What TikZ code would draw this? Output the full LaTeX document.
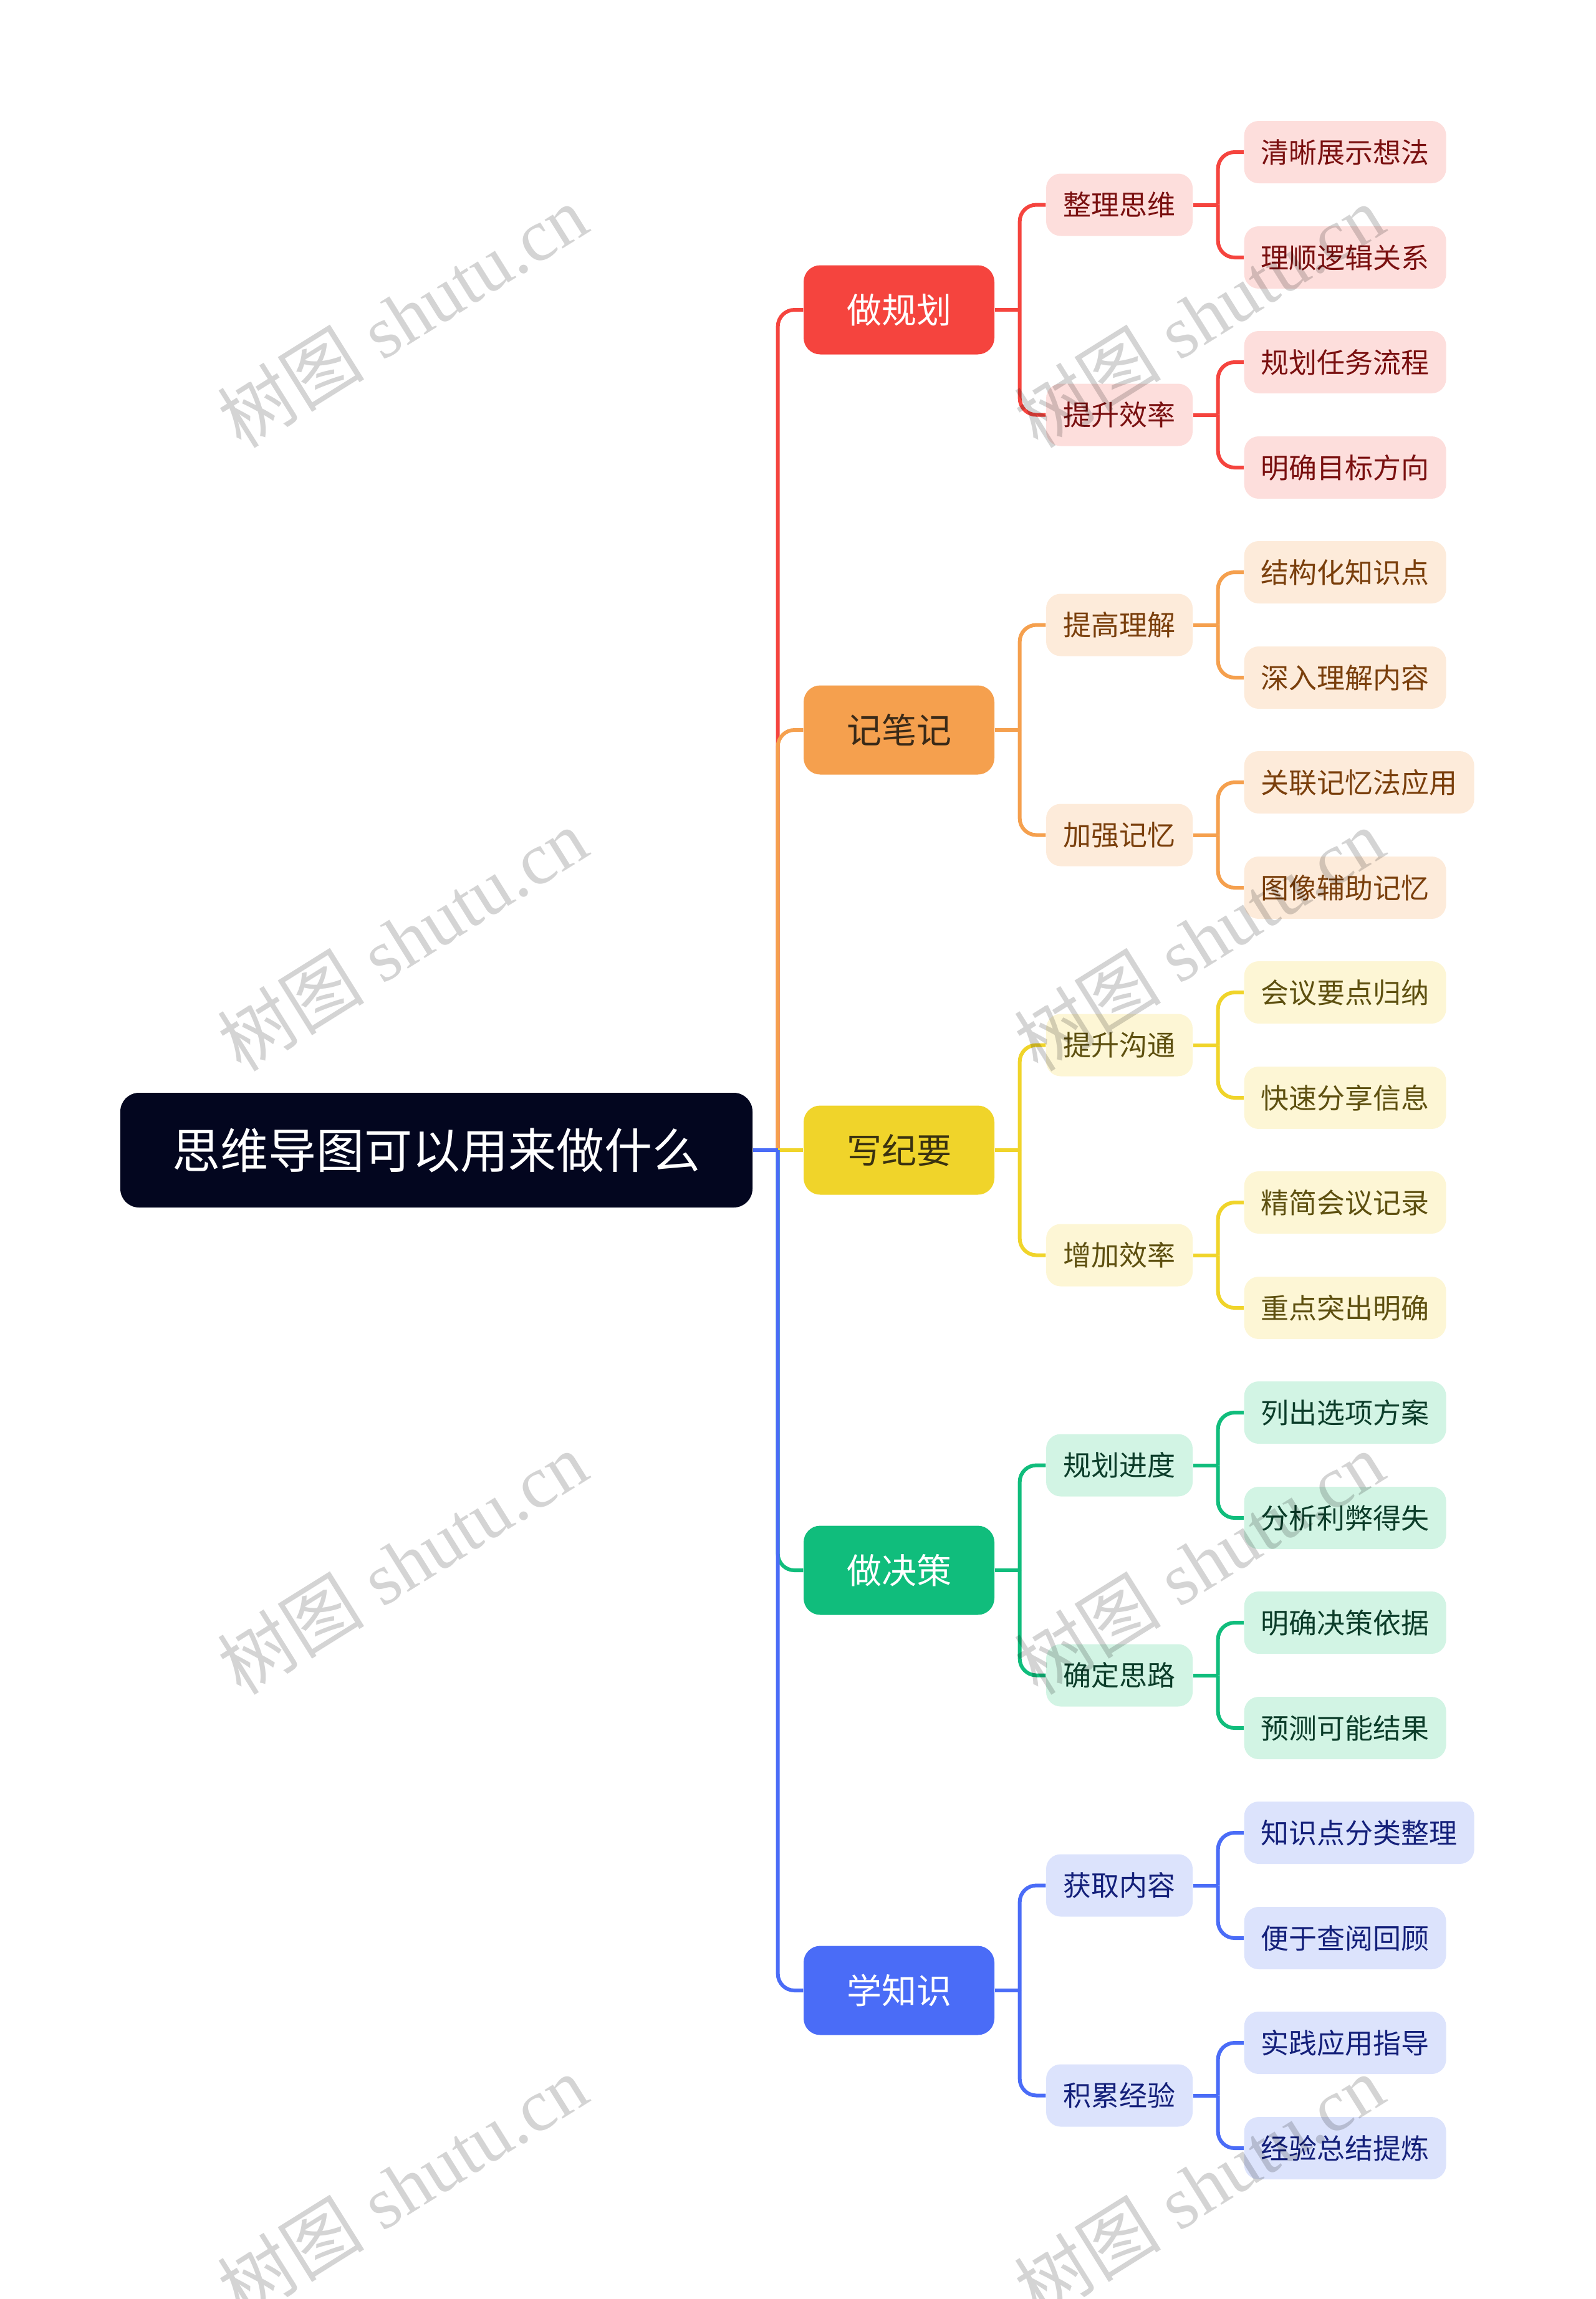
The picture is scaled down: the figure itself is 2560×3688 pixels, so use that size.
\documentclass[tikz,border=0pt]{standalone}
\usepackage{fontspec}
\setmainfont{Noto Sans CJK SC}
\newfontfamily\cjkwm{Noto Sans CJK SC}
\newfontfamily\wmfont{Liberation Serif}
\definecolor{rootc}{HTML}{03061F}
\definecolor{redM}{HTML}{F5443E}
\definecolor{redL}{HTML}{FDDEDC}
\definecolor{redD}{HTML}{7A1010}
\definecolor{oraM}{HTML}{F5A04E}
\definecolor{oraL}{HTML}{FDEBDA}
\definecolor{oraD}{HTML}{7A3F0C}
\definecolor{oraT}{HTML}{3A2A18}
\definecolor{yelM}{HTML}{F0D42A}
\definecolor{yelL}{HTML}{FDF6D5}
\definecolor{yelD}{HTML}{5E5010}
\definecolor{yelT}{HTML}{3A3210}
\definecolor{grnM}{HTML}{10BD7C}
\definecolor{grnL}{HTML}{D2F4E4}
\definecolor{grnD}{HTML}{0C3D2A}
\definecolor{bluM}{HTML}{4A6CF7}
\definecolor{bluL}{HTML}{DCE3FC}
\definecolor{bluD}{HTML}{14207A}
\pgfdeclarelayer{bg}
\pgfsetlayers{bg,main}
\begin{document}
\begin{tikzpicture}[x=0.3pt,y=-0.3pt,
  base/.style={inner ysep=0pt, align=center, text depth=0pt},
  rootbox/.style={base, fill=rootc, text=white, minimum width=304.2pt, minimum height=55.2pt,
    text height=17.56pt, font=\fontsize{23.1pt}{23.1pt}\selectfont, rounded corners=9pt},
  lone/.style={base, minimum width=91.8pt, minimum height=42.9pt, text height=12.77pt,
    font=\fontsize{16.8pt}{16.8pt}\selectfont, rounded corners=8pt},
  ltwo/.style={base, minimum width=70.5pt, minimum height=30pt, text height=10.26pt,
    font=\fontsize{13.5pt}{13.5pt}\selectfont, rounded corners=7pt},
  lthree/.style={base, inner xsep=8.1pt, minimum height=30pt, anchor=west, text height=10.26pt,
    font=\fontsize{13.5pt}{13.5pt}\selectfont, rounded corners=7pt},
  link/.style={line width=1.8pt},
  rlink/.style={line width=1.8pt, rounded corners=8pt},
  wm/.style={rotate=32, text=black, opacity=0.17, inner sep=0pt,
    font=\wmfont\fontsize{35.5pt}{35.5pt}\selectfont},
]
\useasboundingbox (0,0) rectangle (2560,3688);

\node[rootbox] (root) at (700,1845) {思维导图可以用来做什么};

% red branch
\node[lone, fill=redM, text=white] (a) at (1442,497) {做规划};
\node[ltwo, fill=redL, text=redD] (a1) at (1795.5,328.5) {整理思维};
\node[ltwo, fill=redL, text=redD] (a2) at (1795.5,665.5) {提升效率};
\node[lthree, fill=redL, text=redD] (a11) at (1995,244) {清晰展示想法};
\node[lthree, fill=redL, text=redD] (a12) at (1995,413) {理顺逻辑关系};
\node[lthree, fill=redL, text=redD] (a21) at (1995,581) {规划任务流程};
\node[lthree, fill=redL, text=redD] (a22) at (1995,750) {明确目标方向};

% orange branch
\node[lone, fill=oraM, text=oraT] (b) at (1442,1171) {记笔记};
\node[ltwo, fill=oraL, text=oraD] (b1) at (1795.5,1002.5) {提高理解};
\node[ltwo, fill=oraL, text=oraD] (b2) at (1795.5,1339.5) {加强记忆};
\node[lthree, fill=oraL, text=oraD] (b11) at (1995,918) {结构化知识点};
\node[lthree, fill=oraL, text=oraD] (b12) at (1995,1087) {深入理解内容};
\node[lthree, fill=oraL, text=oraD] (b21) at (1995,1255) {关联记忆法应用};
\node[lthree, fill=oraL, text=oraD] (b22) at (1995,1424) {图像辅助记忆};

% yellow branch
\node[lone, fill=yelM, text=yelT] (c) at (1442,1845) {写纪要};
\node[ltwo, fill=yelL, text=yelD] (c1) at (1795.5,1676.5) {提升沟通};
\node[ltwo, fill=yelL, text=yelD] (c2) at (1795.5,2013.5) {增加效率};
\node[lthree, fill=yelL, text=yelD] (c11) at (1995,1592) {会议要点归纳};
\node[lthree, fill=yelL, text=yelD] (c12) at (1995,1761) {快速分享信息};
\node[lthree, fill=yelL, text=yelD] (c21) at (1995,1929) {精简会议记录};
\node[lthree, fill=yelL, text=yelD] (c22) at (1995,2098) {重点突出明确};

% green branch
\node[lone, fill=grnM, text=white] (d) at (1442,2519) {做决策};
\node[ltwo, fill=grnL, text=grnD] (d1) at (1795.5,2350.5) {规划进度};
\node[ltwo, fill=grnL, text=grnD] (d2) at (1795.5,2687.5) {确定思路};
\node[lthree, fill=grnL, text=grnD] (d11) at (1995,2266) {列出选项方案};
\node[lthree, fill=grnL, text=grnD] (d12) at (1995,2435) {分析利弊得失};
\node[lthree, fill=grnL, text=grnD] (d21) at (1995,2603) {明确决策依据};
\node[lthree, fill=grnL, text=grnD] (d22) at (1995,2772) {预测可能结果};

% blue branch
\node[lone, fill=bluM, text=white] (e) at (1442,3193) {学知识};
\node[ltwo, fill=bluL, text=bluD] (e1) at (1795.5,3024.5) {获取内容};
\node[ltwo, fill=bluL, text=bluD] (e2) at (1795.5,3361.5) {积累经验};
\node[lthree, fill=bluL, text=bluD] (e11) at (1995,2940) {知识点分类整理};
\node[lthree, fill=bluL, text=bluD] (e12) at (1995,3109) {便于查阅回顾};
\node[lthree, fill=bluL, text=bluD] (e21) at (1995,3277) {实践应用指导};
\node[lthree, fill=bluL, text=bluD] (e22) at (1995,3446) {经验总结提炼};

\begin{pgfonlayer}{bg}
  % red
  \draw[link, redM] (root.east) -- ++(12pt,0) coordinate (rj);
  \draw[rlink, redM] (rj) |- (a.west);
  \draw[link, redM] (a.east) -- ++(12pt,0) coordinate (aj);
  \draw[rlink, redM] (aj) |- (a1.west);
  \draw[rlink, redM] (aj) |- (a2.west);
  \draw[link, redM] (a1.east) -- ++(12pt,0) coordinate (a1j);
  \draw[rlink, redM] (a1j) |- (a11.west);
  \draw[rlink, redM] (a1j) |- (a12.west);
  \draw[link, redM] (a2.east) -- ++(12pt,0) coordinate (a2j);
  \draw[rlink, redM] (a2j) |- (a21.west);
  \draw[rlink, redM] (a2j) |- (a22.west);
  % orange
  \draw[rlink, oraM] (rj) |- (b.west);
  \draw[link, oraM] (b.east) -- ++(12pt,0) coordinate (bj);
  \draw[rlink, oraM] (bj) |- (b1.west);
  \draw[rlink, oraM] (bj) |- (b2.west);
  \draw[link, oraM] (b1.east) -- ++(12pt,0) coordinate (b1j);
  \draw[rlink, oraM] (b1j) |- (b11.west);
  \draw[rlink, oraM] (b1j) |- (b12.west);
  \draw[link, oraM] (b2.east) -- ++(12pt,0) coordinate (b2j);
  \draw[rlink, oraM] (b2j) |- (b21.west);
  \draw[rlink, oraM] (b2j) |- (b22.west);
  % yellow
  \draw[link, yelM] (rj) -- (c.west);
  \draw[link, yelM] (c.east) -- ++(12pt,0) coordinate (cj);
  \draw[rlink, yelM] (cj) |- (c1.west);
  \draw[rlink, yelM] (cj) |- (c2.west);
  \draw[link, yelM] (c1.east) -- ++(12pt,0) coordinate (c1j);
  \draw[rlink, yelM] (c1j) |- (c11.west);
  \draw[rlink, yelM] (c1j) |- (c12.west);
  \draw[link, yelM] (c2.east) -- ++(12pt,0) coordinate (c2j);
  \draw[rlink, yelM] (c2j) |- (c21.west);
  \draw[rlink, yelM] (c2j) |- (c22.west);
  % green
  \draw[rlink, grnM] (rj) |- (d.west);
  \draw[link, grnM] (d.east) -- ++(12pt,0) coordinate (dj);
  \draw[rlink, grnM] (dj) |- (d1.west);
  \draw[rlink, grnM] (dj) |- (d2.west);
  \draw[link, grnM] (d1.east) -- ++(12pt,0) coordinate (d1j);
  \draw[rlink, grnM] (d1j) |- (d11.west);
  \draw[rlink, grnM] (d1j) |- (d12.west);
  \draw[link, grnM] (d2.east) -- ++(12pt,0) coordinate (d2j);
  \draw[rlink, grnM] (d2j) |- (d21.west);
  \draw[rlink, grnM] (d2j) |- (d22.west);
  % blue
  \draw[link, bluM] (root.east) -- (rj);
  \draw[rlink, bluM] (rj) |- (e.west);
  \draw[link, bluM] (e.east) -- ++(12pt,0) coordinate (ej);
  \draw[rlink, bluM] (ej) |- (e1.west);
  \draw[rlink, bluM] (ej) |- (e2.west);
  \draw[link, bluM] (e1.east) -- ++(12pt,0) coordinate (e1j);
  \draw[rlink, bluM] (e1j) |- (e11.west);
  \draw[rlink, bluM] (e1j) |- (e12.west);
  \draw[link, bluM] (e2.east) -- ++(12pt,0) coordinate (e2j);
  \draw[rlink, bluM] (e2j) |- (e21.west);
  \draw[rlink, bluM] (e2j) |- (e22.west);
\end{pgfonlayer}

% watermarks
\node[wm] (w1) at (645,507) {{\cjkwm 树图} shutu.cn};
\node[wm] (w2) at (645,1507) {{\cjkwm 树图} shutu.cn};
\node[wm] (w3) at (645,2507) {{\cjkwm 树图} shutu.cn};
\node[wm] (w4) at (645,3507) {{\cjkwm 树图} shutu.cn};
\node[wm] (w5) at (1923,507) {{\cjkwm 树图} shutu.cn};
\node[wm] (w6) at (1923,1507) {{\cjkwm 树图} shutu.cn};
\node[wm] (w7) at (1923,2507) {{\cjkwm 树图} shutu.cn};
\node[wm] (w8) at (1923,3507) {{\cjkwm 树图} shutu.cn};
\end{tikzpicture}
\end{document}
